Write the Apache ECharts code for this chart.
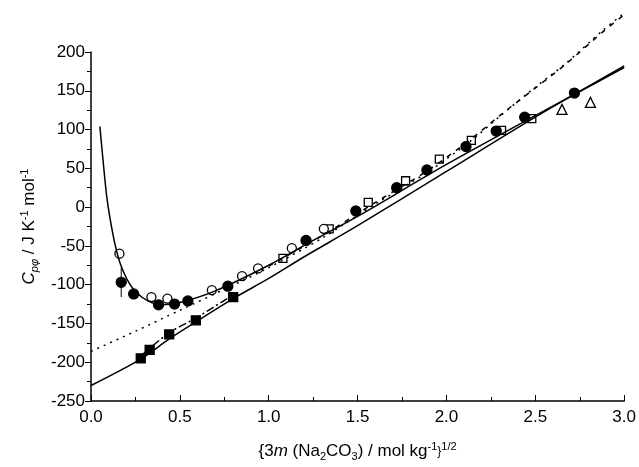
<!DOCTYPE html>
<html>
<head>
<meta charset="utf-8">
<script src="https://cdn.jsdelivr.net/npm/echarts@6/dist/echarts.min.js"></script>
<style>html,body{margin:0;padding:0;background:#fff}#chart{width:639px;height:467px}</style>
</head>
<body>
<div id="chart"></div>
<script>
const filledCircles = [[0.17,-97],[0.24,-112],[0.38,-126],[0.47,-125],[0.545,-121],[0.77,-102],[1.21,-43],[1.49,-5],[1.72,25],[1.89,48],[2.11,78],[2.28,98],[2.44,116],[2.72,147]];
const openCircles = [[0.16,-60],[0.34,-116],[0.43,-118],[0.68,-107],[0.85,-89],[0.94,-79],[1.13,-53],[1.31,-28]];
const openSquares = [[1.08,-66],[1.34,-28],[1.56,6],[1.77,34],[1.96,62],[2.14,86],[2.31,99],[2.48,114]];
const openTriangles = [[2.65,126],[2.81,135]];
const filledSquares = [[0.28,-195],[0.33,-184],[0.44,-164],[0.59,-146],[0.80,-116]];
const errorBar = [[0.17,-78],[0.17,-116]];
const upperFit = [[0.05,104],[0.07,55],[0.09,11],[0.12,-31],[0.15,-62],[0.18,-82],[0.22,-100],[0.26,-111],[0.32,-121],[0.39,-126],[0.5,-123],[0.7,-108],[1.0,-75],[1.25,-43],[1.5,-12],[2.0,55],[2.5,118],[3.0,180]];
const lowerFit = [[0,-230],[0.28,-196],[0.44,-170],[0.59,-148],[0.8,-118],[1.0,-92],[1.2,-64],[1.5,-24],[2.0,46],[2.5,116],[3.0,182]];
const dottedFit = [[0,-186],[0.25,-160],[0.5,-133],[0.75,-106],[1.0,-78],[1.3,-40],[1.6,4],[1.9,46],[2.14,86],[2.3,117],[2.48,151],[2.67,185],[2.88,228],[3.0,250]];
const dashedUpper = [[1.0,-76],[1.3,-37],[1.6,6],[1.9,48],[2.14,88],[2.3,118],[2.48,150],[2.67,184],[2.88,226],[3.0,248]];
const dashedLower = [[0.28,-192],[0.44,-162],[0.59,-143],[0.8,-113]];

const font = "Liberation Sans, Arial, sans-serif";
const chart = echarts.init(document.getElementById("chart"));

function line(data, type, width) {
  return { type: "line", data, symbol: "none", smooth: 0.3, clip: false, silent: true,
    lineStyle: { color: "#000", width: width || 1.5, type } };
}
function marks(data, symbol, filled, size) {
  return { type: "scatter", data, symbol, symbolSize: size || 10, clip: false,
    itemStyle: { color: filled ? "#000" : "#fff", borderColor: "#000", borderWidth: 1.3, opacity: 1 } };
}

const richText = {
  a: { fontSize: 17, fontFamily: font, color: "#000" },
  i: { fontSize: 17, fontFamily: font, fontStyle: "italic", color: "#000" },
  s: { fontSize: 11, fontFamily: font, color: "#000", verticalAlign: "bottom", padding: [10, 0, 0, 0] },
  si: { fontSize: 11, fontFamily: font, fontStyle: "italic", color: "#000", verticalAlign: "bottom", padding: [10, 0, 0, 0] },
  p: { fontSize: 11, fontFamily: font, color: "#000", verticalAlign: "top", padding: [0, 0, 10, 0] }
};

chart.setOption({
  animation: false,
  grid: { left: 91, right: 14, top: 52, bottom: 61 },
  xAxis: {
    type: "value", min: 0, max: 3, interval: 0.5,
    axisLine: { onZero: false, lineStyle: { color: "#000", width: 1.5 } },
    axisTick: { inside: true, length: 6, lineStyle: { color: "#000" } },
    minorTick: { show: true, splitNumber: 2, length: 4, lineStyle: { color: "#000" } },
    splitLine: { show: false },
    axisLabel: { color: "#000", fontSize: 17, fontFamily: font, formatter: (v) => v.toFixed(1), margin: 8 },
    name: "{a|{3}{i|m}{a| (Na}{s|2}{a|CO}{s|3}{a|) / mol kg}{p|-1}{a|}}{p|1/2}",
    nameLocation: "middle", nameGap: 40,
    nameTextStyle: { rich: richText }
  },
  yAxis: {
    type: "value", min: -250, max: 200, interval: 50,
    axisLine: { show: true, onZero: false, lineStyle: { color: "#000", width: 1.5 } },
    axisTick: { inside: false, length: 6, lineStyle: { color: "#000" } },
    minorTick: { show: true, splitNumber: 2, length: 4, lineStyle: { color: "#000" } },
    splitLine: { show: false },
    axisLabel: { color: "#000", fontSize: 17, fontFamily: font, margin: 6 },
    name: "{i|C}{si|pφ}{a| / J K}{p|-1}{a| mol}{p|-1}",
    nameLocation: "middle", nameGap: 50, nameRotate: 90,
    nameTextStyle: { rich: richText }
  },
  series: [
    line(upperFit, "solid"),
    line(lowerFit, "solid"),
    line(dottedFit, [2, 5]),
    line(dashedUpper, [5, 6]),
    line(dashedLower, [8, 3, 2, 3]),
    { type: "line", data: errorBar, symbol: "none", lineStyle: { color: "#000", width: 1 }, silent: true },
    marks(openSquares, "rect", false, 8),
    marks(openTriangles, "triangle", false, 10),
    marks(openCircles, "circle", false, 9),
    marks(filledSquares, "rect", true, 9),
    marks(filledCircles, "circle", true, 10)
  ]
});
</script>
</body>
</html>
